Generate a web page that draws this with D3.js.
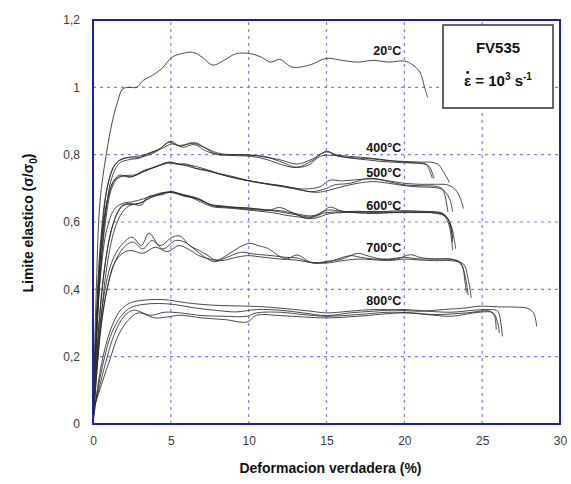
<!DOCTYPE html>
<html><head><meta charset="utf-8">
<script src="https://cdn.jsdelivr.net/npm/d3@7"></script>
<style>body{margin:0;background:#fff}svg{display:block}</style>
</head><body>
<svg id="chart" width="571" height="484"></svg>
<script>
// ---- data ----
const xTicks = [0, 5, 10, 15, 20, 25, 30];
const yTicks = [0, 0.2, 0.4, 0.6, 0.8, 1, 1.2];
const yTickLabels = ["0", "0,2", "0,4", "0,6", "0,8", "1", "1,2"];
const xTitle = "Deformacion verdadera (%)";
const legendTitle = "FV535";

const c20 = [[0,0],[0.2,0.38],[0.45,0.66],[0.85,0.8],[1.25,0.9],[1.6,0.96],[1.9,0.995],[2.3,1.0],[2.8,1.0],[3.2,1.02],[3.8,1.035],[4.4,1.055],[5.1,1.09],[5.7,1.1],[6.4,1.104],[7.0,1.09],[7.7,1.066],[8.4,1.08],[9.2,1.1],[10.1,1.1],[10.8,1.09],[11.4,1.075],[12.0,1.083],[12.8,1.06],[13.9,1.066],[15.0,1.086],[16.0,1.08],[17.0,1.075],[18.0,1.08],[19.0,1.075],[20.0,1.078],[20.5,1.068],[21.0,1.045],[21.3,1.0],[21.5,0.97]];

const c400a = [[0,0],[0.2,0.3],[0.5,0.55],[0.9,0.7],[1.4,0.77],[2.0,0.79],[2.7,0.79],[3.3,0.795],[4.1,0.81],[4.9,0.837],[5.4,0.828],[6.0,0.83],[6.6,0.835],[7.2,0.82],[8.0,0.8],[9.0,0.8],[10.0,0.798],[11.0,0.795],[12.0,0.78],[13.1,0.763],[14.0,0.78],[15.0,0.81],[15.6,0.8],[16.5,0.795],[17.8,0.79],[19.0,0.783],[20.0,0.778],[21.0,0.775],[21.4,0.772],[21.6,0.755],[21.8,0.73]];
const c400b = [[0,0],[0.3,0.35],[0.6,0.58],[1.0,0.72],[1.5,0.775],[2.1,0.79],[2.8,0.795],[3.4,0.8],[4.2,0.815],[5.0,0.84],[5.6,0.825],[6.3,0.835],[7.0,0.825],[8.0,0.805],[9.0,0.8],[10.0,0.8],[11.0,0.793],[12.0,0.785],[13.1,0.772],[14.0,0.785],[15.0,0.808],[15.8,0.795],[17.0,0.79],[18.0,0.787],[19.0,0.782],[20.0,0.78],[21.0,0.778],[21.8,0.777],[22.2,0.77],[22.5,0.75],[22.9,0.718]];
const c400c = [[0,0],[0.4,0.4],[0.8,0.62],[1.2,0.73],[1.7,0.775],[2.3,0.785],[3.0,0.79],[3.6,0.805],[4.4,0.818],[5.1,0.832],[5.8,0.822],[6.5,0.83],[7.3,0.81],[8.2,0.8],[9.2,0.797],[10.2,0.795],[11.2,0.785],[12.0,0.772],[12.9,0.762],[13.8,0.768],[14.6,0.795],[15.4,0.798],[16.5,0.79],[17.5,0.785],[18.5,0.78],[19.5,0.777],[20.5,0.775],[21.2,0.773],[21.6,0.765],[21.8,0.745],[21.9,0.73]];

const c500a = [[0,0],[0.2,0.28],[0.5,0.52],[0.9,0.66],[1.3,0.72],[1.7,0.739],[2.4,0.733],[3.3,0.754],[4.0,0.763],[4.8,0.777],[5.3,0.774],[5.8,0.77],[6.5,0.76],[7.2,0.755],[8.0,0.745],[9.0,0.735],[9.9,0.724],[11.0,0.715],[12.0,0.709],[13.0,0.7],[14.0,0.69],[15.0,0.7],[15.5,0.71],[16.5,0.715],[17.8,0.73],[19.0,0.72],[20.0,0.71],[21.0,0.708],[22.0,0.706],[22.4,0.7],[22.6,0.68],[22.8,0.63]];
const c500b = [[0,0],[0.3,0.35],[0.6,0.56],[1.0,0.68],[1.4,0.725],[1.9,0.737],[2.5,0.735],[3.3,0.75],[4.1,0.765],[4.9,0.775],[5.4,0.772],[6.0,0.772],[6.7,0.758],[7.5,0.75],[8.3,0.74],[9.2,0.73],[10.2,0.72],[11.2,0.712],[12.2,0.705],[13.3,0.695],[14.4,0.688],[15.2,0.695],[16.0,0.705],[17.0,0.715],[18.0,0.72],[19.0,0.715],[20.0,0.708],[21.0,0.704],[22.0,0.702],[22.5,0.695],[22.9,0.67],[23.1,0.63]];
const c500c = [[0,0],[0.4,0.4],[0.8,0.6],[1.2,0.7],[1.6,0.73],[2.1,0.738],[2.7,0.74],[3.5,0.755],[4.2,0.768],[5.0,0.778],[5.6,0.77],[6.3,0.768],[7.0,0.76],[7.8,0.748],[8.7,0.735],[9.6,0.726],[10.6,0.718],[11.6,0.71],[12.6,0.703],[13.6,0.698],[14.6,0.705],[15.2,0.724],[16.0,0.722],[17.0,0.726],[18.0,0.728],[19.0,0.722],[20.0,0.715],[21.0,0.712],[22.0,0.712],[22.8,0.71],[23.3,0.695],[23.6,0.67],[23.8,0.64]];

const c600a = [[0,0],[0.3,0.25],[0.7,0.45],[1.1,0.56],[1.5,0.62],[1.9,0.65],[2.4,0.655],[3.1,0.65],[3.5,0.674],[4.1,0.68],[4.8,0.689],[5.3,0.687],[5.8,0.68],[6.4,0.675],[7.0,0.665],[7.7,0.648],[8.5,0.645],[9.5,0.64],[10.5,0.636],[11.3,0.635],[12.0,0.643],[12.8,0.628],[13.7,0.612],[14.5,0.62],[15.2,0.644],[16.0,0.632],[17.0,0.628],[18.0,0.632],[19.0,0.628],[20.0,0.63],[21.0,0.63],[21.8,0.63],[22.4,0.625],[22.8,0.6],[23.0,0.56],[23.1,0.516]];
const c600b = [[0,0],[0.4,0.3],[0.8,0.48],[1.2,0.58],[1.6,0.63],[2.0,0.65],[2.6,0.652],[3.2,0.66],[3.8,0.675],[4.5,0.682],[5.1,0.69],[5.7,0.68],[6.2,0.675],[6.9,0.66],[7.7,0.645],[8.5,0.642],[9.5,0.638],[10.5,0.633],[11.5,0.628],[12.4,0.62],[13.2,0.615],[14.1,0.61],[15.2,0.625],[16.0,0.628],[17.0,0.63],[18.0,0.628],[19.0,0.63],[20.0,0.628],[21.0,0.628],[22.0,0.627],[22.6,0.62],[23.0,0.59],[23.2,0.55],[23.3,0.52]];
const c600c = [[0,0],[0.5,0.3],[0.9,0.47],[1.4,0.58],[1.9,0.63],[2.4,0.65],[3.0,0.655],[3.6,0.67],[4.3,0.683],[5.0,0.69],[5.5,0.685],[6.1,0.678],[6.8,0.668],[7.5,0.652],[8.3,0.648],[9.2,0.643],[10.2,0.64],[11.0,0.637],[12.0,0.63],[13.0,0.622],[14.0,0.615],[15.0,0.635],[15.8,0.633],[17.0,0.627],[18.0,0.625],[19.0,0.627],[20.0,0.63],[21.0,0.629],[22.0,0.626],[22.7,0.615],[23.0,0.58],[23.1,0.54]];
const c600d = [[0,0],[0.2,0.25],[0.5,0.45],[0.9,0.58],[1.4,0.64],[1.9,0.655],[2.5,0.66],[3.2,0.668],[3.9,0.68],[4.6,0.688],[5.2,0.686],[5.9,0.676],[6.6,0.67],[7.3,0.656],[8.1,0.646],[9.0,0.644],[10.0,0.642],[11.0,0.636],[12.0,0.634],[13.0,0.625],[14.0,0.618],[15.0,0.628],[16.0,0.63],[17.0,0.632],[18.0,0.63],[19.0,0.632],[20.0,0.634],[21.0,0.632],[22.0,0.63],[22.5,0.625],[22.9,0.6],[23.1,0.55]];

const c700a = [[0,0],[0.3,0.22],[0.7,0.38],[1.2,0.48],[1.8,0.53],[2.5,0.555],[3.1,0.53],[3.6,0.567],[4.3,0.53],[5.1,0.555],[5.6,0.558],[6.2,0.53],[6.8,0.516],[7.4,0.5],[7.9,0.487],[8.8,0.507],[9.4,0.525],[10.1,0.537],[10.6,0.53],[11.2,0.522],[12.4,0.49],[13.1,0.502],[14.1,0.478],[15.0,0.483],[16.0,0.49],[17.0,0.507],[17.6,0.5],[18.5,0.49],[19.5,0.49],[20.4,0.503],[21.0,0.495],[22.0,0.49],[23.0,0.49],[23.6,0.48],[23.9,0.44],[24.1,0.383]];
const c700b = [[0,0],[0.4,0.25],[0.9,0.4],[1.4,0.48],[2.0,0.51],[2.5,0.515],[3.2,0.507],[4.0,0.525],[4.8,0.512],[5.5,0.53],[6.1,0.52],[6.8,0.5],[7.5,0.49],[8.2,0.485],[9.2,0.495],[9.9,0.5],[11.0,0.495],[12.0,0.49],[13.0,0.487],[14.0,0.48],[15.0,0.478],[16.0,0.485],[17.0,0.49],[18.0,0.488],[19.0,0.485],[20.0,0.49],[21.0,0.487],[22.0,0.485],[23.0,0.485],[23.8,0.475],[24.1,0.43],[24.3,0.375]];
const c700c = [[0,0],[0.5,0.28],[1.0,0.42],[1.5,0.49],[2.1,0.53],[2.6,0.54],[3.2,0.52],[3.8,0.545],[4.5,0.52],[5.3,0.545],[5.9,0.54],[6.5,0.52],[7.2,0.495],[7.8,0.482],[8.6,0.495],[9.5,0.51],[10.3,0.505],[11.5,0.5],[12.4,0.495],[13.1,0.493],[14.0,0.48],[15.0,0.48],[16.5,0.5],[17.2,0.495],[18.0,0.49],[19.0,0.49],[20.0,0.495],[21.0,0.49],[22.0,0.49],[23.2,0.487],[23.7,0.47],[23.9,0.42],[24.0,0.39]];

const c800a = [[0,0],[0.4,0.14],[0.8,0.23],[1.3,0.3],[1.8,0.34],[2.4,0.36],[3.3,0.368],[4.1,0.37],[4.9,0.368],[6.0,0.36],[7.7,0.353],[9.9,0.35],[11.0,0.348],[12.5,0.342],[14.0,0.335],[15.0,0.33],[16.5,0.335],[18.0,0.34],[19.5,0.338],[21.0,0.335],[22.5,0.34],[24.0,0.345],[24.8,0.35],[26.0,0.348],[27.2,0.347],[27.9,0.344],[28.3,0.33],[28.5,0.29]];
const c800b = [[0,0.02],[0.6,0.17],[1.2,0.27],[1.8,0.32],[2.4,0.345],[3.2,0.355],[4.2,0.358],[5.2,0.355],[6.5,0.345],[8.0,0.337],[9.2,0.333],[10.5,0.34],[12.0,0.338],[13.5,0.33],[15.0,0.322],[16.5,0.33],[18.0,0.335],[19.9,0.34],[21.5,0.335],[23.0,0.332],[24.5,0.338],[25.5,0.34],[26.0,0.335],[26.2,0.3],[26.3,0.26]];
const c800c = [[0,0.03],[0.8,0.18],[1.4,0.27],[2.0,0.32],[2.6,0.338],[3.7,0.323],[4.6,0.332],[5.6,0.33],[7.0,0.322],[8.5,0.32],[9.9,0.32],[10.5,0.33],[12.0,0.332],[13.5,0.325],[15.0,0.32],[17.0,0.325],[19.0,0.332],[20.5,0.33],[22.0,0.325],[24.0,0.33],[25.5,0.335],[25.8,0.32],[25.9,0.28]];
const c800d = [[0,0.04],[1.0,0.18],[1.7,0.27],[2.3,0.31],[2.9,0.33],[4.0,0.315],[4.8,0.318],[5.6,0.323],[7.0,0.315],[8.5,0.31],[9.9,0.303],[10.5,0.323],[12.0,0.322],[13.5,0.318],[15.0,0.315],[17.0,0.32],[19.9,0.33],[21.5,0.325],[23.0,0.32],[24.8,0.332],[25.7,0.33],[26.0,0.3],[26.1,0.27]];

const curves = [c20, c400a, c400b, c400c, c500a, c500b, c500c, c600a, c600b, c600c, c600d, c700a, c700b, c700c, c800a, c800b, c800c, c800d];
const tempLabels = ["20°C", "400°C", "500°C", "600°C", "700°C", "800°C"];
const tempLabelPos = [[19.8, 1.095], [19.8, 0.807], [19.8, 0.733], [19.8, 0.637], [19.8, 0.512], [19.8, 0.353]];

// ---- chart ----
const svg = d3.select("#chart");
const m = {l: 93, r: 11, t: 20, b: 60};
const W = 571, H = 484;
const x = d3.scaleLinear().domain([0, 30]).range([m.l, W - m.r]);
const y = d3.scaleLinear().domain([0, 1.2]).range([H - m.b, m.t]);
const font = "'Liberation Sans', Arial, sans-serif";
const gridColor = "#8080dc";

// grid
svg.append("g").selectAll("line").data(xTicks.slice(1, -1)).join("line")
  .attr("x1", d => x(d)).attr("x2", d => x(d)).attr("y1", y(0)).attr("y2", y(1.2))
  .attr("stroke", gridColor).attr("stroke-width", 1.2).attr("stroke-dasharray", "3,4");
svg.append("g").selectAll("line").data(yTicks.slice(1, -1)).join("line")
  .attr("y1", d => y(d)).attr("y2", d => y(d)).attr("x1", x(0)).attr("x2", x(30))
  .attr("stroke", gridColor).attr("stroke-width", 1.2).attr("stroke-dasharray", "3,4");

// axes (labels only)
const xAxis = d3.axisBottom(x).tickValues(xTicks).tickSize(0).tickPadding(12).tickFormat(d3.format("d"));
const gx = svg.append("g").attr("transform", `translate(0,${y(0)})`).call(xAxis);
const yAxis = d3.axisLeft(y).tickValues(yTicks).tickSize(0).tickPadding(13).tickFormat((d, i) => yTickLabels[i]);
const gy = svg.append("g").attr("transform", `translate(${x(0)},0)`).call(yAxis);
[gx, gy].forEach(g => {
  g.select(".domain").remove();
  g.selectAll("text").attr("font-family", font).attr("font-size", 12).attr("fill", "#3a3a3a");
});

// curves
const line = d3.line().x(d => x(d[0])).y(d => y(d[1])).curve(d3.curveCatmullRom.alpha(0.5));
svg.append("g").selectAll("path").data(curves).join("path")
  .attr("d", line).attr("fill", "none").attr("stroke", "#2a2a2a").attr("stroke-width", 1)
  .attr("stroke-opacity", 0.85);

// temperature labels
svg.append("g").selectAll("text").data(tempLabels).join("text")
  .attr("x", (d, i) => x(tempLabelPos[i][0]))
  .attr("y", (d, i) => y(tempLabelPos[i][1]))
  .attr("text-anchor", "end")
  .attr("font-family", font).attr("font-size", 12.5).attr("font-weight", "bold").attr("fill", "#111")
  .text(d => d);

// frame
svg.append("rect").attr("x", x(0)).attr("y", y(1.2)).attr("width", x(30) - x(0)).attr("height", y(0) - y(1.2))
  .attr("fill", "none").attr("stroke", "#1f1fae").attr("stroke-width", 2);

// legend box
const lg = svg.append("g");
lg.append("rect").attr("x", 443).attr("y", 25).attr("width", 110).attr("height", 83)
  .attr("fill", "#fff").attr("stroke", "#333").attr("stroke-width", 1.5);
lg.append("text").attr("x", 498).attr("y", 53).attr("text-anchor", "middle")
  .attr("font-family", font).attr("font-size", 15).attr("font-weight", "bold").attr("fill", "#111")
  .text(legendTitle);
const t2 = lg.append("text").attr("x", 498).attr("y", 86).attr("text-anchor", "middle")
  .attr("font-family", font).attr("font-size", 15).attr("font-weight", "bold").attr("fill", "#111");
t2.append("tspan").text("ε = 10");
t2.append("tspan").attr("dy", -6).attr("font-size", 10).text("3");
t2.append("tspan").attr("dy", 6).text(" s");
t2.append("tspan").attr("dy", -6).attr("font-size", 10).text("-1");
// time-derivative dot over epsilon
const ext = t2.node().getExtentOfChar(0);
lg.append("circle").attr("cx", ext.x + ext.width / 2).attr("cy", 72.5).attr("r", 1.4).attr("fill", "#111");

// axis titles
svg.append("text").attr("x", (x(0) + x(30)) / 2 + 4).attr("y", 473).attr("text-anchor", "middle")
  .attr("font-family", font).attr("font-size", 14).attr("font-weight", "bold").attr("fill", "#111")
  .text(xTitle);
const yt = svg.append("text").attr("transform", "translate(33,223) rotate(-90)").attr("text-anchor", "middle")
  .attr("font-family", font).attr("font-size", 14).attr("font-weight", "bold").attr("fill", "#111");
yt.append("tspan").text("Limite elastico (σ/σ");
yt.append("tspan").attr("dy", 4).attr("font-size", 10).text("0");
yt.append("tspan").attr("dy", -4).text(")");
</script>
</body></html>
